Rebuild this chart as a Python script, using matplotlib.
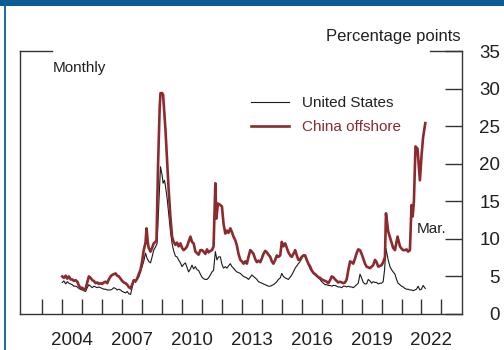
import matplotlib
matplotlib.use('Agg')
import matplotlib.pyplot as plt
from matplotlib.patches import Rectangle

plt.rcParams['font.family'] = ['Liberation Sans', 'DejaVu Sans']

# ---- data (decimal years, percentage points) ----
us_t = [2004.00, 2004.08, 2004.17, 2004.25, 2004.33, 2004.42, 2004.50, 2004.58, 2004.67, 2004.75, 2004.83, 2004.92,
        2005.00, 2005.08, 2005.17, 2005.25, 2005.33, 2005.42, 2005.50, 2005.58, 2005.67, 2005.75, 2005.83, 2005.92,
        2006.00, 2006.08, 2006.17, 2006.25, 2006.33, 2006.42, 2006.50, 2006.58, 2006.67, 2006.75, 2006.83, 2006.92,
        2007.00, 2007.08, 2007.17, 2007.25, 2007.33, 2007.42, 2007.50, 2007.58, 2007.67, 2007.75, 2007.83, 2007.92,
        2008.00, 2008.08, 2008.17, 2008.25, 2008.33, 2008.42, 2008.50, 2008.58, 2008.67, 2008.75, 2008.83, 2008.92,
        2009.00, 2009.05, 2009.12, 2009.17, 2009.25, 2009.33, 2009.42, 2009.50, 2009.58, 2009.67, 2009.75, 2009.83, 2009.92,
        2010.00, 2010.08, 2010.17, 2010.25, 2010.33, 2010.42, 2010.50, 2010.58, 2010.67, 2010.75, 2010.83, 2010.92,
        2011.00, 2011.08, 2011.17, 2011.25, 2011.33, 2011.42, 2011.50, 2011.58, 2011.67, 2011.75, 2011.83, 2011.92,
        2012.00, 2012.08, 2012.17, 2012.25, 2012.33, 2012.42, 2012.50, 2012.58, 2012.67, 2012.75, 2012.83, 2012.92,
        2013.00, 2013.08, 2013.17, 2013.25, 2013.33, 2013.42, 2013.50, 2013.58, 2013.67, 2013.75, 2013.83, 2013.92,
        2014.00, 2014.08, 2014.17, 2014.25, 2014.33, 2014.42, 2014.50, 2014.58, 2014.67, 2014.75, 2014.83, 2014.92,
        2015.00, 2015.08, 2015.17, 2015.25, 2015.33, 2015.42, 2015.50, 2015.58, 2015.67, 2015.75, 2015.83, 2015.92,
        2016.00, 2016.08, 2016.17, 2016.25, 2016.33, 2016.42, 2016.50, 2016.58, 2016.67, 2016.75, 2016.83, 2016.92,
        2017.00, 2017.08, 2017.17, 2017.25, 2017.33, 2017.42, 2017.50, 2017.58, 2017.67, 2017.75, 2017.83, 2017.92,
        2018.00, 2018.08, 2018.17, 2018.25, 2018.33, 2018.42, 2018.50, 2018.58, 2018.67, 2018.75, 2018.83, 2018.92,
        2019.00, 2019.08, 2019.17, 2019.25, 2019.33, 2019.42, 2019.50, 2019.58, 2019.67, 2019.75, 2019.83, 2019.92,
        2020.00, 2020.08, 2020.15, 2020.22, 2020.33, 2020.42, 2020.50, 2020.58, 2020.67, 2020.75, 2020.83, 2020.92,
        2021.00, 2021.08, 2021.17, 2021.25, 2021.33, 2021.42, 2021.50, 2021.58, 2021.67, 2021.75, 2021.83, 2021.92,
        2022.00, 2022.08, 2022.19]
us_v = [4.2, 4.4, 4.0, 4.3, 4.1, 4.0, 3.9, 3.7, 3.7, 3.6, 3.4, 3.3,
        3.2, 3.1, 3.0, 3.5, 3.9, 3.7, 3.5, 3.7, 3.6, 3.5, 3.6, 3.5,
        3.4, 3.3, 3.3, 3.2, 3.2, 3.2, 3.3, 3.5, 3.4, 3.2, 3.3, 3.2,
        3.0, 2.9, 2.8, 3.0, 2.7, 2.6, 3.5, 4.5, 4.2, 4.6, 4.9, 5.6,
        6.3, 7.0, 8.1, 7.4, 7.0, 6.8, 7.6, 8.5, 8.9, 9.4, 14.3, 19.6,
        18.5, 17.4, 17.8, 17.0, 15.5, 13.4, 11.0, 9.4, 8.4, 7.7, 7.6, 7.2, 6.8,
        6.3, 6.6, 6.8, 6.2, 5.6, 6.0, 6.5, 6.0, 6.3, 5.9, 5.8, 5.3,
        4.9, 4.7, 4.6, 4.6, 4.8, 5.2, 5.6, 5.8, 8.3, 7.2, 7.6, 7.6,
        6.6, 6.1, 6.3, 6.1, 6.4, 6.7, 6.3, 6.1, 5.8, 5.6, 5.5, 5.4,
        5.2, 5.0, 4.9, 4.8, 4.6, 4.9, 5.2, 5.0, 4.8, 4.6, 4.3, 4.2,
        4.1, 4.0, 3.9, 3.8, 3.7, 3.7, 3.8, 3.9, 4.1, 4.3, 4.6, 4.8,
        5.4, 5.0, 4.8, 4.7, 4.6, 4.9, 5.2, 5.6, 6.1, 6.4, 6.7, 7.0,
        7.4, 7.8, 7.6, 7.2, 6.6, 6.0, 5.7, 5.4, 5.2, 5.0, 4.8, 4.6,
        4.3, 4.1, 3.9, 3.9, 3.8, 3.8, 3.7, 3.8, 3.8, 3.7, 3.6, 3.6,
        3.5, 3.7, 3.7, 3.6, 3.7, 3.6, 3.6, 3.5, 3.7, 3.9, 4.1, 5.3,
        4.8, 4.2, 4.0, 4.0, 4.6, 4.4, 4.1, 4.3, 4.2, 4.2, 4.0, 4.1,
        4.1, 4.3, 5.9, 8.7, 7.2, 6.3, 5.9, 5.6, 5.3, 4.6, 4.1, 3.9,
        3.7, 3.6, 3.4, 3.3, 3.3, 3.2, 3.2, 3.1, 3.2, 3.3, 3.7, 3.2,
        3.3, 3.8, 3.4]

cn_t = [2004.00, 2004.08, 2004.17, 2004.25, 2004.33, 2004.42, 2004.50, 2004.58, 2004.67, 2004.75, 2004.83, 2004.92,
        2005.00, 2005.08, 2005.17, 2005.25, 2005.33, 2005.42, 2005.50, 2005.58, 2005.67, 2005.75, 2005.83, 2005.92,
        2006.00, 2006.08, 2006.17, 2006.25, 2006.33, 2006.42, 2006.50, 2006.58, 2006.67, 2006.75, 2006.83, 2006.92,
        2007.00, 2007.08, 2007.17, 2007.25, 2007.33, 2007.42, 2007.50, 2007.58, 2007.67, 2007.75, 2007.83, 2007.92,
        2008.00, 2008.08, 2008.17, 2008.22, 2008.29, 2008.33, 2008.42, 2008.50, 2008.58, 2008.67, 2008.72, 2008.80,
        2008.88, 2008.92, 2009.00, 2009.05, 2009.17, 2009.25, 2009.33, 2009.42, 2009.50, 2009.58, 2009.67, 2009.75,
        2009.83, 2009.92, 2010.00, 2010.08, 2010.17, 2010.25, 2010.33, 2010.42, 2010.50, 2010.58, 2010.67, 2010.75,
        2010.83, 2010.92, 2011.00, 2011.08, 2011.17, 2011.25, 2011.33, 2011.42, 2011.50, 2011.58, 2011.67, 2011.72,
        2011.80, 2011.92, 2012.00, 2012.08, 2012.17, 2012.25, 2012.33, 2012.42, 2012.50, 2012.58, 2012.67, 2012.75,
        2012.83, 2012.92, 2013.00, 2013.08, 2013.17, 2013.25, 2013.33, 2013.42, 2013.50, 2013.58, 2013.67, 2013.75,
        2013.83, 2013.92, 2014.00, 2014.08, 2014.17, 2014.25, 2014.33, 2014.42, 2014.50, 2014.58, 2014.67, 2014.75,
        2014.83, 2014.92, 2015.00, 2015.08, 2015.17, 2015.25, 2015.33, 2015.42, 2015.50, 2015.58, 2015.67, 2015.75,
        2015.83, 2015.92, 2016.00, 2016.08, 2016.17, 2016.25, 2016.33, 2016.42, 2016.50, 2016.58, 2016.67, 2016.75,
        2016.83, 2016.92, 2017.00, 2017.08, 2017.17, 2017.25, 2017.33, 2017.42, 2017.50, 2017.58, 2017.67, 2017.75,
        2017.83, 2017.92, 2018.00, 2018.08, 2018.17, 2018.25, 2018.33, 2018.42, 2018.50, 2018.58, 2018.67, 2018.75,
        2018.83, 2018.92, 2019.00, 2019.08, 2019.17, 2019.25, 2019.33, 2019.42, 2019.50, 2019.58, 2019.67, 2019.75,
        2019.83, 2019.92, 2020.00, 2020.08, 2020.17, 2020.22, 2020.33, 2020.42, 2020.50, 2020.58, 2020.67, 2020.75,
        2020.80, 2020.92, 2021.00, 2021.08, 2021.17, 2021.25, 2021.33, 2021.42, 2021.50, 2021.56, 2021.62, 2021.70,
        2021.80, 2021.92, 2022.00, 2022.08, 2022.19]
cn_v = [5.0, 4.8, 5.1, 4.7, 5.0, 4.6, 4.6, 4.4, 4.5, 4.3, 3.8, 3.4,
        3.5, 3.2, 3.4, 4.2, 5.0, 4.8, 4.5, 4.4, 4.1, 4.2, 4.0, 4.1,
        4.0, 4.2, 4.3, 4.1, 4.6, 5.0, 5.2, 5.3, 5.4, 5.1, 5.0, 4.7,
        4.4, 4.2, 4.1, 3.9, 3.6, 3.4, 3.9, 4.5, 4.4, 4.7, 5.3, 5.9,
        7.0, 8.5, 9.5, 11.4, 9.4, 8.8, 8.3, 8.8, 9.4, 9.6, 9.8, 20.0,
        27.5, 29.4, 29.4, 29.2, 24.5, 20.5, 16.5, 12.8, 10.3, 9.6, 9.2, 9.5,
        9.0, 9.4, 8.8, 8.5, 8.7, 9.0, 9.6, 10.3, 9.6, 9.4, 8.3, 8.1,
        7.9, 8.5, 8.5, 8.3, 8.0, 8.6, 8.2, 8.4, 8.5, 9.0, 17.4, 12.7,
        14.7, 14.5, 14.3, 12.0, 10.7, 11.1, 10.8, 11.4, 10.9, 10.3, 9.8, 9.1,
        8.0, 7.2, 7.0, 6.7, 7.0, 6.7, 7.6, 8.5, 8.3, 8.0, 7.3, 6.9,
        7.1, 6.9, 7.4, 8.0, 8.4, 8.2, 7.9, 7.6, 7.0, 6.7, 7.2, 7.8,
        7.6, 7.8, 9.6, 9.0, 9.4, 8.8, 8.2, 7.8, 7.6, 8.0, 8.5, 7.8,
        7.2, 7.3, 7.6, 7.8, 7.8, 7.2, 6.7, 6.3, 5.8, 5.5, 5.3, 5.1,
        4.9, 4.8, 4.6, 4.5, 4.4, 4.3, 4.1, 4.5, 5.0, 4.9, 4.6, 4.4,
        4.2, 4.3, 4.2, 4.1, 4.2, 4.6, 5.8, 7.0, 6.9, 6.7, 7.4, 8.1,
        8.6, 8.5, 8.0, 7.4, 6.7, 6.3, 6.2, 6.1, 6.3, 6.5, 7.2, 6.9,
        6.3, 6.4, 6.5, 6.9, 7.6, 13.4, 11.0, 10.2, 9.5, 8.8, 8.5, 9.6,
        10.3, 9.0, 8.7, 8.5, 8.5, 8.6, 8.3, 8.5, 14.5, 13.0, 15.0, 22.3,
        22.0, 17.8, 21.0, 23.5, 25.4]

tick_years = list(range(2003, 2024))
label_years = [2004, 2007, 2010, 2013, 2016, 2019, 2022]
y_ticks = [0, 5, 10, 15, 20, 25, 30, 35]
series_names = ['United States', 'China offshore']

RED = '#8C2A2E'
INK = '#231f20'
AXC = '#333333'
W, H = 504, 350

fig = plt.figure(figsize=(W / 100, H / 100), dpi=100)
fig.patch.set_facecolor('white')
ax = fig.add_axes([20 / W, 36 / H, 442 / W, 263 / H])

ax.plot(us_t, us_v, color='#1a1a1a', lw=0.8, label=series_names[0])
ax.plot(cn_t, cn_v, color=RED, lw=1.9, label=series_names[1])

ax.set_xlim(2001.88, 2024.03)
ax.set_ylim(0, 35)

ax.spines['top'].set_visible(False)
for s in ['left', 'right', 'bottom']:
    ax.spines[s].set_color(AXC)
    ax.spines[s].set_linewidth(1.0)

# partial top border at corners
for xs in ([0, 32 / 442], [1 - 32 / 442, 1]):
    ax.plot(xs, [1, 1], transform=ax.transAxes, clip_on=False, color=AXC, lw=1.0)

# y axis on the right
ax.yaxis.tick_right()
ax.set_yticks(y_ticks)
ax.set_yticklabels([str(v) for v in y_ticks])
ax.tick_params(axis='y', which='major', direction='in', length=12.2, width=1.0,
               color=AXC, pad=27.4, labelsize=13.5, labelcolor=INK,
               right=True, left=False, labelright=True, labelleft=False)
for lbl in ax.get_yticklabels():
    lbl.set_horizontalalignment('right')

# x axis: year ticks, labels mid-year
ax.set_xticks(tick_years)
ax.set_xticks([y + 0.5 for y in label_years], labels=[str(y) for y in label_years], minor=True)
ax.tick_params(axis='x', which='major', direction='in', length=10.8, width=1.0,
               color=AXC, labelbottom=False)
ax.tick_params(axis='x', which='minor', length=0, pad=13, labelsize=13.5, labelcolor=INK)

leg = ax.legend(loc='upper left', bbox_to_anchor=(251 / W, 1 - 96 / H),
                bbox_transform=fig.transFigure, frameon=False, fontsize=11,
                handlelength=2.5, handletextpad=0.85, labelspacing=0.68,
                borderpad=0, borderaxespad=0)
for txt, c in zip(leg.get_texts(), [INK, RED]):
    txt.set_color(c)

fig.text(461 / W, 1 - 37 / H, 'Percentage points', ha='right', va='center', fontsize=12, color=INK)
fig.text(53 / W, 1 - 68 / H, 'Monthly', ha='left', va='center', fontsize=11, color=INK)
fig.text(417 / W, 1 - 229 / H, 'Mar.', ha='left', va='center', fontsize=11, color=INK)

# blue frame decoration
fig.add_artist(Rectangle((0, 1 - 6 / H), 1, 6 / H, transform=fig.transFigure,
                         facecolor='#0B5E93', edgecolor='none'))
fig.add_artist(Rectangle((4 / W, 0), 1.8 / W, 1 - 6 / H, transform=fig.transFigure,
                         facecolor='#1F6FA8', edgecolor='none'))

fig.savefig('out.png', dpi=100)
